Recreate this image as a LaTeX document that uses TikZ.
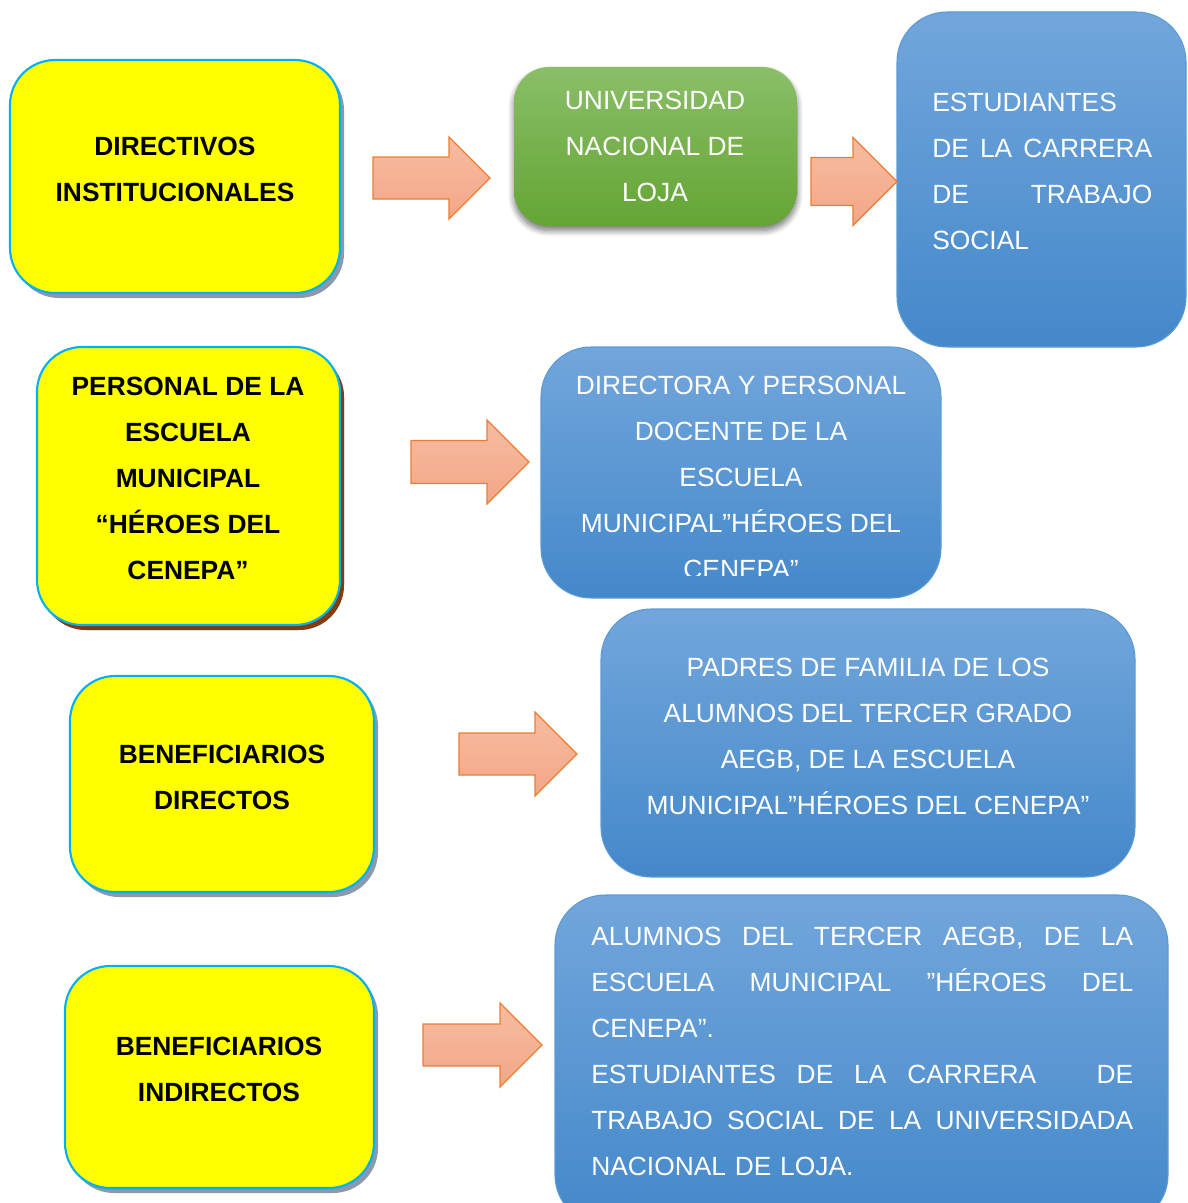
\documentclass[tikz,border=0pt]{standalone}
\usepackage{fontspec}
\setmainfont{Liberation Sans}
\usetikzlibrary{shadows,shadows.blur}

\definecolor{amarillo}{RGB}{255,255,0}
\definecolor{bordeCeleste}{RGB}{0,176,240}
\definecolor{sombraGris}{RGB}{140,152,172}
\definecolor{sombraCafe}{RGB}{132,60,12}
\definecolor{verdeArriba}{RGB}{138,190,104}
\definecolor{verdeAbajo}{RGB}{100,165,52}
\definecolor{azulArriba}{RGB}{114,166,219}
\definecolor{azulAbajo}{RGB}{68,136,202}
\definecolor{azulBorde}{RGB}{91,155,213}
\definecolor{flechaArriba}{RGB}{247,188,162}
\definecolor{flechaAbajo}{RGB}{243,166,134}
\definecolor{flechaBorde}{RGB}{237,125,49}

\newcommand{\pxu}{0.02cm}
% flecha de bloque: x izq, y centro, largo del cuerpo, medio ancho cuerpo, medio ancho punta
\newcommand{\flecha}[5]{%
  \draw[flechaSty] (#1,#2-#4) -- (#1+#3,#2-#4) -- (#1+#3,#2-#5) -- (#1+#3+#5,#2)
    -- (#1+#3,#2+#5) -- (#1+#3,#2+#4) -- (#1,#2+#4) -- cycle;}
% linea justificada: los espacios van como \hfill
\newcommand{\jlinea}[2]{\leavevmode\hbox to #1{#2}}

\tikzset{
  amarilla/.style={draw=bordeCeleste, line width=1.2pt, fill=amarillo, rounded corners=0.9cm,
    drop shadow={shadow xshift=0.08cm, shadow yshift=-0.1cm, fill=sombraGris, opacity=1}},
  amarillaCafe/.style={amarilla, drop shadow={shadow xshift=0.08cm, shadow yshift=-0.1cm, fill=sombraCafe, opacity=1}},
  verde/.style={rounded corners=0.7cm, top color=verdeArriba, bottom color=verdeAbajo, draw=none,
    blur shadow={shadow xshift=0cm, shadow yshift=-0.09cm, shadow blur radius=0.12cm, shadow blur steps=10, shadow opacity=55}},
  azul/.style={rounded corners=1cm, top color=azulArriba, bottom color=azulAbajo, draw=azulBorde, line width=0.6pt},
  txtNegro/.style={font=\bfseries\fontsize{15}{26.2}\selectfont, align=center, inner sep=0pt},
  txtBlanco/.style={text=white, font=\fontsize{15}{26.2}\selectfont, align=center, inner sep=0pt},
  flechaSty/.style={top color=flechaArriba, bottom color=flechaAbajo, draw=flechaBorde, line width=0.7pt, line join=miter}
}

\begin{document}
\begin{tikzpicture}[x=0.02cm, y=-0.02cm]
  \clip (0,0) rectangle (1187,1203);

  % cajas amarillas
  \node[amarilla, minimum width=330*\pxu, minimum height=233*\pxu] (dirInst) at (175,176.5) {};
  \node[amarillaCafe, minimum width=303*\pxu, minimum height=278*\pxu] (persEsc) at (188.5,486) {};
  \node[amarilla, minimum width=304*\pxu, minimum height=216*\pxu] (benDir) at (222,784) {};
  \node[amarilla, minimum width=309*\pxu, minimum height=222*\pxu] (benInd) at (219.5,1077) {};

  \node[txtNegro] (dirInstTxt) at (175,169) {DIRECTIVOS\\INSTITUCIONALES};
  \node[txtNegro] (persEscTxt) at (188,478) {PERSONAL DE LA\\ESCUELA\\MUNICIPAL\\“HÉROES DEL\\CENEPA”};
  \node[txtNegro] (benDirTxt) at (222,777) {BENEFICIARIOS\\DIRECTOS};
  \node[txtNegro] (benIndTxt) at (219,1069.5) {BENEFICIARIOS\\INDIRECTOS};

  % cajas verde y azules
  \node[verde, minimum width=283*\pxu, minimum height=159*\pxu] (unl) at (655.5,146.5) {};
  \node[azul, minimum width=289*\pxu, minimum height=335*\pxu] (estTS) at (1041.5,179.5) {};
  \node[azul, minimum width=400*\pxu, minimum height=251*\pxu] (docEsc) at (741,472.5) {};
  \node[azul, minimum width=534*\pxu, minimum height=268*\pxu] (padres) at (868,743) {};
  \node[azul, minimum width=613*\pxu, minimum height=330*\pxu] (alumnos) at (861.5,1060) {};

  \node[txtBlanco] (unlTxt) at (655,146) {UNIVERSIDAD\\NACIONAL DE\\LOJA};
  \node[txtBlanco, align=left, text width=4.4cm, anchor=west] (estTSTxt) at (932,171.5)
    {ESTUDIANTES\\\jlinea{4.4cm}{DE\hfill LA\hfill CARRERA}\\\jlinea{4.4cm}{DE\hfill TRABAJO}\\SOCIAL};
  \begin{scope}
    \clip (541,347) rectangle (941,575);
    \node[txtBlanco] (docEscTxt) at (741,477)
      {DIRECTORA Y PERSONAL\\DOCENTE DE LA\\ESCUELA\\MUNICIPAL”HÉROES DEL\\CENEPA”};
  \end{scope}
  \node[txtBlanco] (padresTxt) at (868,736)
    {PADRES DE FAMILIA DE LOS\\ALUMNOS DEL TERCER GRADO\\AEGB, DE LA ESCUELA\\MUNICIPAL”HÉROES DEL CENEPA”};
  \node[txtBlanco, align=left, text width=10.84cm, anchor=west] (alumnosTxt) at (591,1051)
    {\jlinea{10.84cm}{ALUMNOS\hfill DEL\hfill TERCER\hfill AEGB,\hfill DE\hfill LA}\\
     \jlinea{10.84cm}{ESCUELA\hfill MUNICIPAL\hfill ”HÉROES\hfill DEL}\\
     CENEPA”.\\
     \jlinea{10.84cm}{ESTUDIANTES\hfill DE\hfill LA\hfill CARRERA\hfill\hspace{1.5em}DE}\\
     \jlinea{10.84cm}{TRABAJO\hfill SOCIAL\hfill DE\hfill LA\hfill UNIVERSIDADA}\\
     NACIONAL DE LOJA.};

  % flechas
  \flecha{373}{178}{76}{21}{41}
  \flecha{811}{181.5}{42}{24}{44}
  \flecha{411}{462}{76}{21.5}{42}
  \flecha{459}{754}{76}{21}{42}
  \flecha{423}{1045}{77}{21}{42}
\end{tikzpicture}
\end{document}
